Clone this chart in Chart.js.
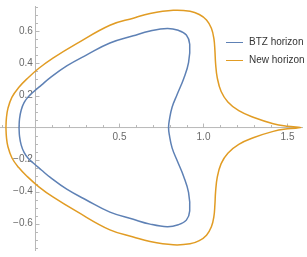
<!DOCTYPE html>
<html>
<head>
<meta charset="utf-8">
<script src="https://cdn.jsdelivr.net/npm/chart.js@4.4.1/dist/chart.umd.min.js"></script>
<style>
  html, body { margin: 0; padding: 0; background: #fff; }
  #wrap { position: relative; width: 307px; height: 257px; }
  .key { position: absolute; left: 226px; font: 10px "Liberation Sans", Arial, sans-serif; color: #333; white-space: nowrap; }
  .key i { position: absolute; left: 0; width: 17px; height: 0; border-top: 1.5px solid; }
  .key span { position: absolute; left: 23px; top: -6px; }
</style>
</head>
<body>
<div id="wrap">
  <canvas id="chart" width="307" height="257"></canvas>
  <div class="key" style="top:42px"><i style="border-color:#5E81B5"></i><span>BTZ horizon</span></div>
  <div class="key" style="top:60px"><i style="border-color:#E19C24"></i><span>New horizon</span></div>
</div>
<script>
// Curves, traced as closed loops
// (start at the leftmost point, go over the top, back along the bottom).
const btzX = [-0.098, -0.095, -0.085, -0.068, -0.045, -0.015, 0.035, 0.086, 0.186, 0.305, 0.443, 0.582, 0.682, 0.784, 0.850, 0.898, 0.918, 0.911, 0.882, 0.843, 0.813, 0.797, 0.792,
              0.797, 0.813, 0.843, 0.882, 0.911, 0.918, 0.898, 0.850, 0.784, 0.682, 0.582, 0.443, 0.305, 0.186, 0.086, 0.035, -0.015, -0.045, -0.068, -0.085, -0.095, -0.098];
const btzY = [0, 0.055, 0.110, 0.155, 0.190, 0.220, 0.265, 0.310, 0.385, 0.454, 0.528, 0.573, 0.603, 0.619, 0.607, 0.578, 0.520, 0.405, 0.305, 0.206, 0.127, 0.048, 0,
              -0.048, -0.127, -0.206, -0.305, -0.405, -0.520, -0.578, -0.607, -0.619, -0.603, -0.573, -0.528, -0.454, -0.385, -0.310, -0.265, -0.220, -0.190, -0.155, -0.110, -0.055, 0];

const newX = [-0.176, -0.173, -0.164, -0.140, -0.100, -0.050, 0.020, 0.106, 0.245, 0.443, 0.582, 0.682, 0.820, 0.920, 0.975, 1.018, 1.047, 1.062, 1.068, 1.072, 1.082, 1.105, 1.145, 1.210, 1.296, 1.415, 1.500, 1.580,
              1.500, 1.415, 1.296, 1.210, 1.145, 1.105, 1.082, 1.072, 1.068, 1.062, 1.047, 1.018, 0.975, 0.920, 0.820, 0.682, 0.582, 0.443, 0.245, 0.106, 0.020, -0.050, -0.100, -0.140, -0.164, -0.173, -0.176];
const newY = [0, 0.060, 0.120, 0.190, 0.250, 0.305, 0.370, 0.435, 0.524, 0.639, 0.683, 0.712, 0.732, 0.726, 0.706, 0.672, 0.620, 0.555, 0.480, 0.400, 0.310, 0.225, 0.160, 0.105, 0.064, 0.024, 0.008, 0,
              -0.008, -0.024, -0.064, -0.105, -0.160, -0.225, -0.310, -0.400, -0.480, -0.555, -0.620, -0.672, -0.706, -0.726, -0.732, -0.712, -0.683, -0.639, -0.524, -0.435, -0.370, -0.305, -0.250, -0.190, -0.120, -0.060, 0];

// Labelled ticks and the small unlabelled ones between them
const xTickLabels = [0.5, 1.0, 1.5];
const yTickLabels = [-0.6, -0.4, -0.2, 0.2, 0.4, 0.6];
const xMinorTicks = [-0.2, -0.1, 0.1, 0.2, 0.3, 0.4, 0.6, 0.7, 0.8, 0.9, 1.1, 1.2, 1.3, 1.4];
const yMinorTicks = [-0.75, -0.7, -0.65, -0.55, -0.5, -0.45, -0.35, -0.3, -0.25, -0.15, -0.1, -0.05,
                     0.05, 0.1, 0.15, 0.25, 0.3, 0.35, 0.45, 0.5, 0.55, 0.65, 0.7, 0.75];

const BLUE = "#5E81B5";
const ORANGE = "#E19C24";
const AXIS_COLOR = "#b8b8b8";
const LABEL_COLOR = "#6a6a6a";
const FONT = { family: "'Liberation Sans', Arial, sans-serif", size: 10 };

// Axes through the origin, ticks pointing into the positive side (Mathematica style)
const originAxes = {
  id: "originAxes",
  beforeDatasetsDraw(chart) {
    const { ctx, chartArea, scales: { x, y } } = chart;
    const x0 = x.getPixelForValue(0);
    const y0 = y.getPixelForValue(0);
    ctx.save();
    ctx.strokeStyle = AXIS_COLOR;
    ctx.lineWidth = 1;
    ctx.beginPath();
    ctx.moveTo(chartArea.left, y0);
    ctx.lineTo(chartArea.right, y0);
    ctx.moveTo(x0, chartArea.top);
    ctx.lineTo(x0, chartArea.bottom);

    const xTick = (v, len) => {
      const px = Math.round(x.getPixelForValue(v)) + 0.5;
      ctx.moveTo(px, y0);
      ctx.lineTo(px, y0 - len);
    };
    const yTick = (v, len) => {
      const py = Math.round(y.getPixelForValue(v)) + 0.5;
      ctx.moveTo(x0, py);
      ctx.lineTo(x0 + len, py);
    };
    xTickLabels.forEach((v) => xTick(v, 4));
    xMinorTicks.forEach((v) => xTick(v, 2.5));
    yTickLabels.forEach((v) => yTick(v, 4));
    yMinorTicks.forEach((v) => yTick(v, 2.5));
    ctx.stroke();
    ctx.restore();
  }
};

const toPoints = (xs, ys) => xs.map((v, i) => ({ x: v, y: ys[i] }));

const fmt = (v) => (v < 0 ? "\u2212" : "") + Math.abs(v).toFixed(1);

new Chart(document.getElementById("chart"), {
  type: "scatter",
  data: {
    datasets: [
      { label: "BTZ horizon", data: toPoints(btzX, btzY), borderColor: BLUE },
      { label: "New horizon", data: toPoints(newX, newY), borderColor: ORANGE }
    ]
  },
  options: {
    responsive: false,
    animation: false,
    events: [],
    showLine: true,
    elements: {
      point: { radius: 0 },
      line: { borderWidth: 1.5, tension: 0.4, fill: false }
    },
    layout: { padding: { left: 0, right: 4, top: 0, bottom: 0 } },
    plugins: { legend: { display: false }, tooltip: { enabled: false } },
    scales: {
      x: {
        type: "linear",
        min: -0.2113,
        max: 1.5923,
        position: { y: 0 },
        grid: { display: false, drawTicks: false },
        border: { display: false },
        afterBuildTicks: (s) => { s.ticks = xTickLabels.map((v) => ({ value: v })); },
        ticks: { color: LABEL_COLOR, font: FONT, padding: 4, maxRotation: 0, autoSkip: false, callback: fmt }
      },
      y: {
        type: "linear",
        min: -0.7708,
        max: 0.7589,
        position: { x: -0.016 },
        grid: { display: false, drawTicks: false },
        border: { display: false },
        afterBuildTicks: (s) => { s.ticks = yTickLabels.map((v) => ({ value: v })); },
        ticks: { color: LABEL_COLOR, font: FONT, padding: 0, autoSkip: false, callback: fmt }
      }
    }
  },
  plugins: [originAxes]
});
</script>
</body>
</html>
